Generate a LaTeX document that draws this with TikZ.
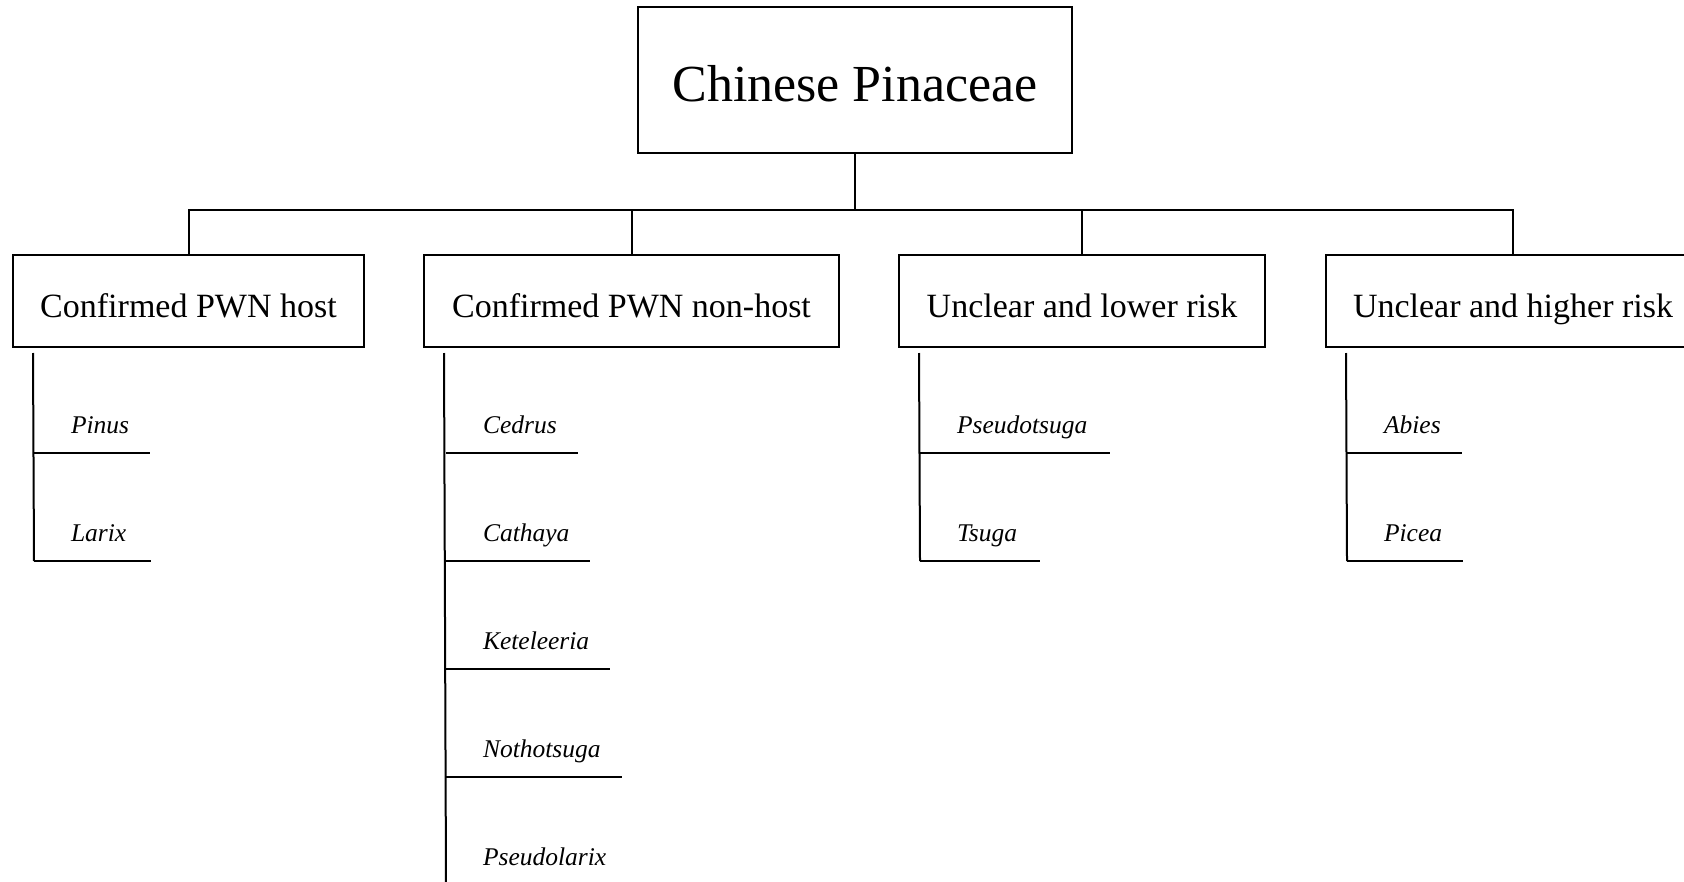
\documentclass[tikz,border=0pt]{standalone}
\usepackage{fontspec}
\setmainfont{Liberation Serif}
\usetikzlibrary{calc}

\begin{document}
\begin{tikzpicture}[x=0.5pt,y=-0.5pt,line width=1pt,
    rootbox/.style={draw, minimum width=217pt, minimum height=73pt, inner sep=0pt, text height=22pt, text depth=0pt, font=\fontsize{26}{31}\selectfont},
    groupbox/.style={draw, minimum height=46pt, inner sep=0pt, text height=16pt, text depth=0pt, font=\fontsize{17}{20}\selectfont},
    genus/.style={anchor=base west, inner sep=0pt, font=\fontsize{12.75}{15}\selectfont\itshape}]
    \useasboundingbox (0,0) rectangle (1684,882);

    % top level
    \node[rootbox] (root) at (855,80) {Chinese Pinaceae};

    % four groups
    \node[groupbox, minimum width=175.5pt] (host) at (188.5,301) {Confirmed PWN host};
    \node[groupbox, minimum width=207.5pt] (nonhost) at (631.5,301) {Confirmed PWN non-host};
    \node[groupbox, minimum width=183pt] (lowrisk) at (1082,301) {Unclear and lower risk};
    \node[groupbox, minimum width=187pt] (highrisk) at (1513,301) {Unclear and higher risk};

    \draw (root.south) -- ++(0,56) coordinate (bus);
    \draw (host.north) |- (bus) -| (highrisk.north);
    \draw (nonhost.north) -- (nonhost.north|-bus);
    \draw (lowrisk.north) -- (lowrisk.north|-bus);

    % genera
    \node[genus] (pinus) at (70,433) {Pinus};
    \node[genus] (larix) at (70,541) {Larix};

    \node[genus] (cedrus) at (482,433) {Cedrus};
    \node[genus] (cathaya) at (482,541) {Cathaya};
    \node[genus] (keteleeria) at (482,649) {Keteleeria};
    \node[genus] (nothotsuga) at (482,757) {Nothotsuga};
    \node[genus] (pseudolarix) at (482,865) {Pseudolarix};

    \node[genus] (pseudotsuga) at (956,433) {Pseudotsuga};
    \node[genus] (tsuga) at (956,541) {Tsuga};

    \node[genus] (abies) at (1383,433) {Abies};
    \node[genus] (picea) at (1383,541) {Picea};

    % trunks
    \draw ([shift={(21,5)}]host.south west) -- ($(larix.base west)+(-36,20)$);
    \draw ([shift={(21,5)}]nonhost.south west) -- ($(pseudolarix.base west)+(-36,20)$);
    \draw ([shift={(21,5)}]lowrisk.south west) -- ($(tsuga.base west)+(-36,20)$);
    \draw ([shift={(21,5)}]highrisk.south west) -- ($(picea.base west)+(-36,20)$);

    % underlines
    \draw ($(pinus.base west)+(-36,20)$) -- ($(pinus.base east)+(20,20)$);
    \draw ($(larix.base west)+(-36,20)$) -- ($(larix.base east)+(24,20)$);
    \draw ($(cedrus.base west)+(-36,20)$) -- ($(cedrus.base east)+(20,20)$);
    \draw ($(cathaya.base west)+(-36,20)$) -- ($(cathaya.base east)+(20,20)$);
    \draw ($(keteleeria.base west)+(-36,20)$) -- ($(keteleeria.base east)+(20,20)$);
    \draw ($(nothotsuga.base west)+(-36,20)$) -- ($(nothotsuga.base east)+(20,20)$);
    \draw ($(pseudolarix.base west)+(-36,20)$) -- ($(pseudolarix.base east)+(20,20)$);
    \draw ($(pseudotsuga.base west)+(-36,20)$) -- ($(pseudotsuga.base east)+(22,20)$);
    \draw ($(tsuga.base west)+(-36,20)$) -- ($(tsuga.base east)+(22,20)$);
    \draw ($(abies.base west)+(-36,20)$) -- ($(abies.base east)+(20,20)$);
    \draw ($(picea.base west)+(-36,20)$) -- ($(picea.base east)+(20,20)$);
\end{tikzpicture}
\end{document}
